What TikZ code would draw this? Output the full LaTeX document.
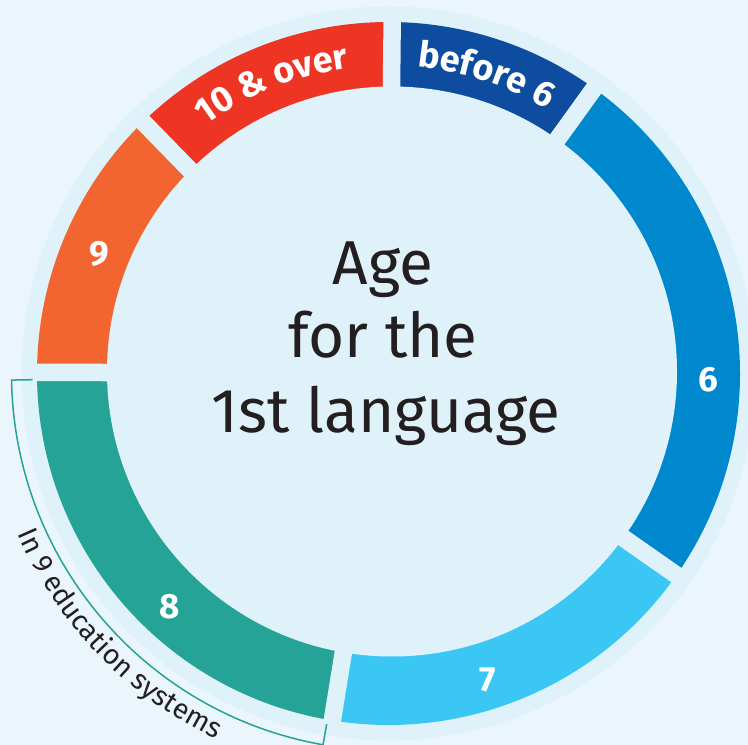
\documentclass[tikz,border=0pt]{standalone}
\usepackage{fontspec}
\setmainfont{Fira Sans}
\usetikzlibrary{decorations.text}
\definecolor{bgc}{HTML}{EBF6FC}
\definecolor{haloc}{HTML}{DFF2FA}
\definecolor{cRed}{HTML}{EE3524}
\definecolor{cNavy}{HTML}{0D4C9F}
\definecolor{cSix}{HTML}{0088CF}
\definecolor{cSeven}{HTML}{3BC7F4}
\definecolor{cTeal}{HTML}{24A396}
\definecolor{cOrange}{HTML}{F26531}
\definecolor{cText}{HTML}{231F20}
\newcommand\ringsector[3]{\fill[#3] (Co) -- ([shift={(#1:351.5)}]Co) arc[start angle=#1,end angle=#2,radius=351.5] -- cycle;}
\newcommand\ringgap[1]{\draw[haloc,line width=17.5] ([shift={(#1:240)}]Co) -- ([shift={(#1:362)}]Co);}
\begin{document}
\begin{tikzpicture}[x=1pt,y=1pt,
  numlabel/.style={text=white,font=\bfseries\fontsize{35}{35}\selectfont,inner sep=0pt},
  centertext/.style={text=cText,font=\fontsize{62}{62}\selectfont,anchor=base,inner sep=0pt}]
\useasboundingbox (0,0) rectangle (748,745);
\fill[bgc] (0,0) rectangle (748,745);
\coordinate (Co) at (388.5,371.5);
\coordinate (Ci) at (392,373.5);
\fill[haloc] (Co) circle[radius=367];
% ring sectors
\ringsector{89.4}{134.3}{cRed}
\ringsector{134.3}{180}{cOrange}
\ringsector{180}{260.8}{cTeal}
\ringsector{260.8}{325}{cSeven}
\ringsector{-35}{54.2}{cSix}
\ringsector{54.2}{89.4}{cNavy}
\fill[haloc] (Ci) circle[radius=285];
% gaps
\ringgap{89.4}
\ringgap{134.3}
\ringgap{179.8}
\ringgap{260.8}
\ringgap{-35}
\ringgap{54.2}
% curved labels
\path[decorate,decoration={text along path,
  text={|\bfseries\fontsize{36}{36}\selectfont|10 {\&} over},
  text align=center,text color=white}]
  ([shift={(134.3:308)}]Co) arc[start angle=134.3,end angle=89.4,radius=308];
\path[decorate,decoration={text along path,
  text={|\bfseries\fontsize{36}{36}\selectfont|before 6},
  text align=center,text color=white}]
  ([shift={(89.4:308)}]Co) arc[start angle=89.4,end angle=54.2,radius=308];
% number labels
\node[numlabel] (n9) at (99,491) {9};
\node[numlabel] (n6) at (708,365) {6};
\node[numlabel] (n7) at (488,65) {7};
\node[numlabel] (n8) at (170,138) {8};
% bracket
\draw[cTeal,line width=1.5] ([shift={(181:356)}]Co) -- ([shift={(181:377)}]Co)
  arc[start angle=181,end angle=260,radius=377] -- ([shift={(260:356)}]Co);
\path[decorate,decoration={text along path,
  text={|\fontsize{28}{28}\selectfont\color{cText}|In 9 education systems},
  text align=center}]
  ([shift={(199:404)}]Co) arc[start angle=199,end angle=249,radius=404];
% centre text
\node[centertext] (l1) at (383,460) {Age};
\node[centertext] (l2) at (383,387) {for the};
\node[centertext] (l3) at (386,312) {1st language};
\end{tikzpicture}
\end{document}
